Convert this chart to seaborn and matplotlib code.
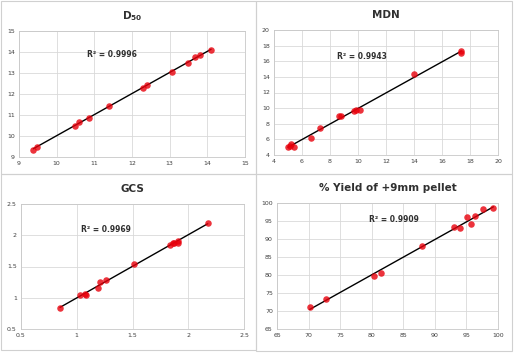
import numpy as np
import seaborn as sns
import matplotlib.pyplot as plt
from matplotlib.patches import Rectangle

# values
d50_x = [9.38, 9.47, 10.49, 10.59, 10.86, 11.40, 12.28, 12.41, 13.06, 13.48, 13.68, 13.81, 14.10]
d50_y = [9.35, 9.50, 10.50, 10.65, 10.87, 11.44, 12.29, 12.45, 13.05, 13.48, 13.76, 13.86, 14.10]

mdn_x = [5.00, 5.19, 5.15, 5.43, 6.67, 7.29, 8.64, 8.76, 9.69, 9.83, 10.17, 14.00, 17.35, 17.38]
mdn_y = [5.02, 5.45, 5.20, 5.00, 6.20, 7.40, 8.96, 9.05, 9.60, 9.70, 9.79, 14.35, 17.00, 17.30]

gcs_x = [0.85, 1.03, 1.07, 1.08, 1.19, 1.21, 1.26, 1.51, 1.835, 1.86, 1.87, 1.91, 1.91, 2.175]
gcs_y = [0.83, 1.04, 1.06, 1.05, 1.16, 1.25, 1.29, 1.545, 1.85, 1.87, 1.88, 1.905, 1.87, 2.196]

yld_x = [70.18, 72.80, 80.33, 81.50, 87.90, 93.03, 93.98, 95.10, 95.70, 96.30, 97.60, 99.27]
yld_y = [71.10, 73.30, 79.60, 80.55, 88.06, 93.24, 93.05, 96.00, 94.17, 96.30, 98.40, 98.50]

titles = [r'$\mathbf{D_{50}}$', 'MDN', 'GCS', '% Yield of +9mm pellet']
r2_labels = ['R² = 0.9996', 'R² = 0.9943', 'R² = 0.9969', 'R² = 0.9909']
ticks = [
    [9, 10, 11, 12, 13, 14, 15],
    [4, 6, 8, 10, 12, 14, 16, 18, 20],
    [0.5, 1, 1.5, 2, 2.5],
    [65, 70, 75, 80, 85, 90, 95, 100],
]
tick_labels = [
    ['9', '10', '11', '12', '13', '14', '15'],
    ['4', '6', '8', '10', '12', '14', '16', '18', '20'],
    ['0.5', '1', '1.5', '2', '2.5'],
    ['65', '70', '75', '80', '85', '90', '95', '100'],
]
r2_pos = [(11.46, 13.89), (10.3, 16.6), (1.26, 2.10), (83.5, 95.4)]

data = [(d50_x, d50_y), (mdn_x, mdn_y), (gcs_x, gcs_y), (yld_x, yld_y)]

sns.set_style('white')
plt.rcParams['font.family'] = ['DejaVu Sans']

W, H = 515, 353
fig = plt.figure(figsize=(W / 100, H / 100), dpi=100)
fig.patch.set_facecolor('white')

# plot area boxes in pixels: left, right, top, bottom
boxes = [(19, 245, 31, 157), (274, 498, 30, 155), (21, 244, 204, 329), (277, 498, 203, 329)]
# outer panel frames
frames = [(1, 256, 1, 174), (256, 512, 1, 174), (1, 256, 174, 350), (256, 512, 174, 351)]
title_y = [16, 15, 189, 188]

for (l, r, t, b) in frames:
    fig.patches.append(Rectangle((l / W, 1 - b / H), (r - l) / W, (b - t) / H,
                                 transform=fig.transFigure, fill=False,
                                 edgecolor='#d0d0d0', linewidth=0.8))

for i, (x, y) in enumerate(data):
    l, r, t, b = boxes[i]
    ax = fig.add_axes([l / W, 1 - b / H, (r - l) / W, (b - t) / H])
    sns.regplot(x=np.array(x), y=np.array(y), ax=ax, ci=None,
                scatter_kws={'color': '#e8000b', 's': 22, 'linewidths': 0, 'zorder': 3},
                line_kws={'color': 'black', 'linewidth': 1.0, 'zorder': 2})
    ax.set_xlim(ticks[i][0], ticks[i][-1])
    ax.set_ylim(ticks[i][0], ticks[i][-1])
    ax.set_xticks(ticks[i])
    ax.set_yticks(ticks[i])
    ax.set_xticklabels(tick_labels[i])
    ax.set_yticklabels(tick_labels[i])
    ax.tick_params(length=0, labelsize=4.5, labelcolor='#404040', pad=3)
    ax.grid(True, color='#d9d9d9', linewidth=0.6)
    ax.set_axisbelow(True)
    for s in ax.spines.values():
        s.set_color('#c8c8c8')
        s.set_linewidth(0.6)
    ax.set_xlabel('')
    ax.set_ylabel('')
    ax.text(r2_pos[i][0], r2_pos[i][1], r2_labels[i], fontsize=5.5,
            fontweight='bold', color='#303030', ha='center', va='center')
    fig.text(((l + r) / 2) / W, 1 - title_y[i] / H, titles[i], fontsize=7.5,
             fontweight='bold', color='#303030', ha='center', va='center')

fig.savefig('out.png', dpi=100)
